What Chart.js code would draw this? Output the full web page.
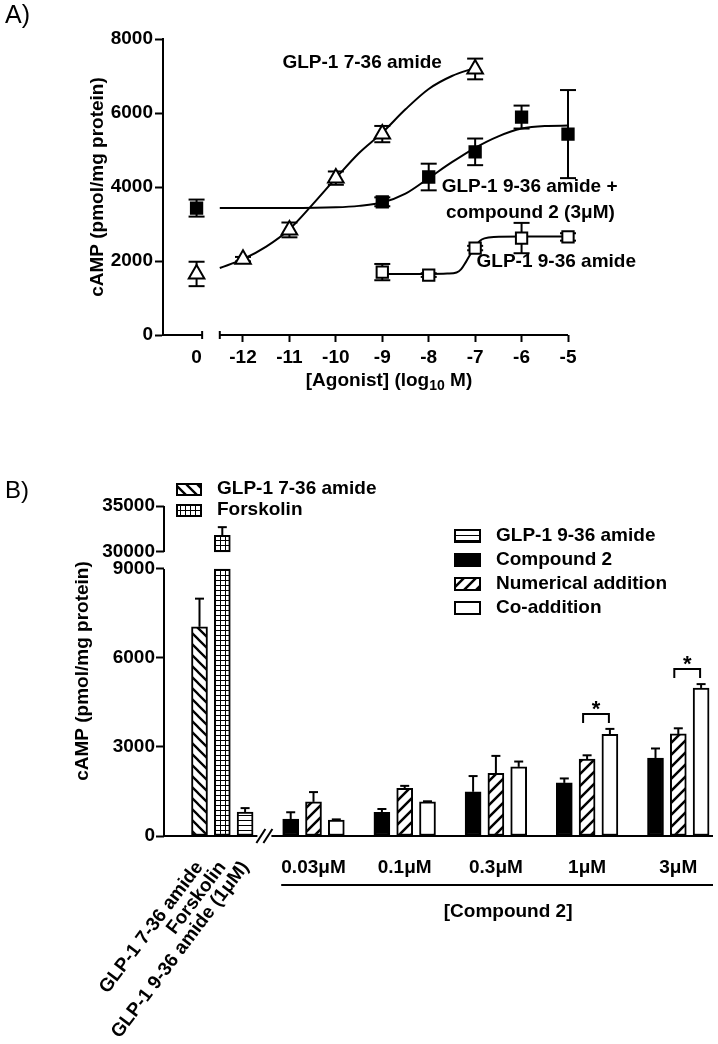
<!DOCTYPE html>
<html>
<head>
<meta charset="utf-8">
<script src="https://cdn.jsdelivr.net/npm/chart.js@4/dist/chart.umd.min.js"></script>
<style>
html,body{margin:0;padding:0;background:#fff;}
#wrap{position:relative;width:718px;height:1044px;overflow:hidden;}
#ca{position:absolute;left:0;top:0;}
#cb{position:absolute;left:0;top:430px;}
</style>
</head>
<body>
<div id="wrap">
<canvas id="ca" width="718" height="430"></canvas>
<canvas id="cb" width="718" height="614"></canvas>
</div>
<script>
// ================= DATA =================
// ---- Panel A : concentration-response (log10 M; 0 = no agonist) ----
const doseTicks = [0, -12, -11, -10, -9, -8, -7, -6, -5];
const cAmpTicksA = [0, 2000, 4000, 6000, 8000];

const glp736Dose = [0, -12, -11, -10, -9, -7];
const glp736Mean = [1650, 2050, 2840, 4240, 5430, 7190];
const glp736Sem  = [330, 60, 200, 180, 220, 280];
const glp736FitX = [-12.5, -12, -11.5, -11, -10.5, -10, -9.5, -9, -8.5, -8, -7.5, -7];
const glp736FitY = [1810, 2050, 2390, 2860, 3530, 4240, 4920, 5470, 6100, 6650, 7000, 7220];

const comboDose = [0, -9, -8, -7, -6, -5];
const comboMean = [3430, 3600, 4270, 4950, 5890, 5430];
const comboSem  = [230, 120, 360, 360, 310, 1190];
const comboFitX = [-12.5, -11, -10, -9.5, -9, -8.5, -8, -7.5, -7, -6.5, -6, -5.5, -5];
const comboFitY = [3430, 3430, 3450, 3490, 3580, 3820, 4240, 4670, 5060, 5370, 5580, 5650, 5660];

const glp936Dose = [-9, -8, -7, -6, -5];
const glp936Mean = [1700, 1620, 2350, 2620, 2650];
const glp936Sem  = [220, 50, 60, 410, 100];
const glp936FitX = [-9, -8, -7.6, -7.4, -7.3, -7.2, -7.1, -7.0, -6.9, -6.8, -6.6, -6, -5];
const glp936FitY = [1650, 1650, 1660, 1690, 1780, 1970, 2190, 2380, 2540, 2610, 2650, 2660, 2660];

// ---- Panel B : bar chart ----
const leftCats = ['GLP-1 7-36 amide', 'Forskolin', 'GLP-1 9-36 amide (1\u03bcM)'];
const leftMean = [7050, 31800, 810];
const leftSem  = [950, 900, 130];

const groupLabels = ['0.03\u03bcM', '0.1\u03bcM', '0.3\u03bcM', '1\u03bcM', '3\u03bcM'];
const cpd2Mean   = [570, 800, 1490, 1790, 2630];
const cpd2Sem    = [230, 110, 530, 150, 320];
const numAddMean = [1150, 1610, 2110, 2590, 3440];
const numAddSem  = [330, 80, 590, 130, 190];
const coAddMean  = [540, 1150, 2330, 3430, 4990];
const coAddSem   = [20, 20, 180, 180, 130];
const sigGroups  = [3, 4];   // * Numerical addition vs Co-addition

const legendLeft  = ['GLP-1 7-36 amide', 'Forskolin'];
const legendRight = ['GLP-1 9-36 amide', 'Compound 2', 'Numerical addition', 'Co-addition'];
const cAmpTicksB = [0, 3000, 6000, 9000, 30000, 35000];

// ================= SETUP =================
const FAM = '"Liberation Sans", Arial, Helvetica, sans-serif';
const FS = 19;
Chart.defaults.font.family = FAM;
Chart.defaults.color = '#000';
const BOLD = s => ({ family: FAM, size: s, weight: 'bold' });
const BF = 'bold ' + FS + 'px ' + FAM;

function line(ctx, x1, y1, x2, y2) { ctx.beginPath(); ctx.moveTo(x1, y1); ctx.lineTo(x2, y2); ctx.stroke(); }

// ---------- Panel A ----------
const CTRL = -13;                         // axis position used for the "0" (no agonist) point
const AX_GAP = [-12.88, -12.5];           // break in the x axis
const toAxis = d => d === 0 ? CTRL : d;
const pts = (xs, ys) => xs.map((x, i) => ({ x: toAxis(x), y: ys[i] }));
const fit = (xs, ys) => xs.map((x, i) => ({ x: x, y: ys[i] }));

// left edge (axis units) and vertical centre (cAMP units) of curve labels
const annotationsA = [
  { text: 'GLP-1 7-36 amide', x: -11.15, y: 7350 },
  { text: 'GLP-1 9-36 amide +', x: -7.72, y: 4000 },
  { text: 'compound 2 (3\u03bcM)', x: -7.63, y: 3300 },
  { text: 'GLP-1 9-36 amide', x: -6.97, y: 1970 }
];

const panelAPlugin = {
  id: 'panelA',
  beforeDatasetsDraw(chart) {
    const { ctx, scales: { x, y } } = chart;
    ctx.save();
    ctx.strokeStyle = '#000'; ctx.lineWidth = 2;
    chart.data.datasets.forEach(ds => {
      if (!ds.errorBars) return;
      ds.data.forEach((p, i) => {
        const e = ds.errorBars[i];
        const px = x.getPixelForValue(p.x);
        const yt = y.getPixelForValue(p.y + e), yb = y.getPixelForValue(p.y - e);
        line(ctx, px, yt, px, yb);
        line(ctx, px - 8, yt, px + 8, yt);
        line(ctx, px - 8, yb, px + 8, yb);
      });
    });
    ctx.restore();
  },
  afterDraw(chart) {
    const { ctx, chartArea: ca, scales: { x, y } } = chart;
    ctx.save();
    ctx.strokeStyle = '#000'; ctx.fillStyle = '#000'; ctx.lineWidth = 2;
    const ay = ca.bottom;
    const g1 = x.getPixelForValue(AX_GAP[0]), g2 = x.getPixelForValue(AX_GAP[1]);
    line(ctx, ca.left - 1, ay, g1, ay);
    line(ctx, g2, ay, ca.right, ay);
    line(ctx, g1, ay - 4, g1, ay + 4);
    line(ctx, g2, ay - 4, g2, ay + 4);
    // x title with subscript
    const f2 = 'bold 14px ' + FAM;
    const parts = [['[Agonist] (log', BF, 0], ['10', f2, 5], [' M)', BF, 0]];
    let w = 0;
    parts.forEach(p => { ctx.font = p[1]; w += ctx.measureText(p[0]).width; });
    let tx = 389 - w / 2;
    ctx.textBaseline = 'middle'; ctx.textAlign = 'left';
    parts.forEach(p => { ctx.font = p[1]; ctx.fillText(p[0], tx, 381 + p[2]); tx += ctx.measureText(p[0]).width; });
    // curve annotations
    ctx.font = BF; ctx.textAlign = 'left';
    annotationsA.forEach(a => ctx.fillText(a.text, x.getPixelForValue(a.x), y.getPixelForValue(a.y)));
    // panel letter
    ctx.font = '25px ' + FAM;
    ctx.fillText('A)', 5, 16);
    ctx.restore();
  }
};

const markerBase = { showLine: false, clip: false, pointBorderColor: '#000', pointBorderWidth: 2 };
const curveBase = { showLine: true, borderColor: '#000', borderWidth: 2, pointRadius: 0, cubicInterpolationMode: 'monotone', clip: false };

new Chart(document.getElementById('ca'), {
  type: 'scatter',
  data: {
    datasets: [
      Object.assign({ data: pts(glp736Dose, glp736Mean), errorBars: glp736Sem, pointStyle: 'triangle', pointRadius: 9, pointBackgroundColor: '#fff' }, markerBase),
      Object.assign({ data: pts(comboDose, comboMean), errorBars: comboSem, pointStyle: 'rect', pointRadius: 8, pointBackgroundColor: '#000' }, markerBase),
      Object.assign({ data: pts(glp936Dose, glp936Mean), errorBars: glp936Sem, pointStyle: 'rect', pointRadius: 8, pointBackgroundColor: '#fff' }, markerBase),
      Object.assign({ data: fit(glp736FitX, glp736FitY) }, curveBase),
      Object.assign({ data: fit(comboFitX, comboFitY) }, curveBase),
      Object.assign({ data: fit(glp936FitX, glp936FitY) }, curveBase)
    ]
  },
  options: {
    responsive: false, animation: false, devicePixelRatio: 1,
    layout: { padding: { left: 0, top: 39, right: 150, bottom: 0 } },
    plugins: { legend: { display: false }, tooltip: { enabled: false } },
    scales: {
      x: {
        type: 'linear', min: -13.723, max: -5, bounds: 'data',
        afterFit: s => { s.height = 95; },
        afterBuildTicks: s => { s.ticks = doseTicks.map(d => ({ value: toAxis(d) })); },
        border: { display: false },
        grid: { drawOnChartArea: false, drawTicks: true, tickLength: 7, tickWidth: 2,
                tickColor: c => (c.tick && c.tick.value === CTRL) ? 'rgba(0,0,0,0)' : '#000' },
        ticks: { autoSkip: false, maxRotation: 0, padding: 4, font: BOLD(FS), color: '#000',
                 callback: v => v === CTRL ? '0' : String(v) }
      },
      y: {
        type: 'linear', min: 0, max: 8000, bounds: 'data',
        afterFit: s => { s.width = 163; },
        afterBuildTicks: s => { s.ticks = cAmpTicksA.map(v => ({ value: v })); },
        border: { display: true, color: '#000', width: 2 },
        grid: { drawOnChartArea: false, tickLength: 8, tickWidth: 2, tickColor: '#000' },
        ticks: { autoSkip: false, padding: 2, font: BOLD(FS), color: '#000', callback: v => String(v) },
        title: { display: true, text: 'cAMP (pmol/mg protein)', font: BOLD(FS), color: '#000', padding: { top: 86, bottom: 0 } }
      }
    }
  },
  plugins: [panelAPlugin]
});

// ---------- Panel B ----------
const LinearScale = Chart.LinearScale || Chart.registry.getScale('linear');
class BrokenScale extends LinearScale {
  toVirtual(v) {
    const b = this.options.brk;
    if (v <= b.low) return v;
    if (v >= b.high) return b.low + b.gap + (v - b.high) * b.upperScale;
    return b.low + (v - b.low) / (b.high - b.low) * b.gap;
  }
  getPixelForValue(v) {
    if (v === null || v === undefined || isNaN(v)) return NaN;
    return super.getPixelForValue(this.toVirtual(v));
  }
}
BrokenScale.id = 'brokenLinear';
BrokenScale.defaults = LinearScale.defaults;
Chart.register(BrokenScale);

const BRK = { low: 9000, high: 30000, gap: 573, upperScale: 0.31 };
const yTopB = cAmpTicksB[cAmpTicksB.length - 1];
const virtualMax = BRK.low + BRK.gap + (yTopB - BRK.high) * BRK.upperScale;

const ctxB = document.getElementById('cb').getContext('2d');
function hatch(kind) {
  const c = document.createElement('canvas');
  const g = c.getContext('2d');
  if (kind === 'back' || kind === 'fwd') {
    const s = kind === 'back' ? 11 : 12;
    c.width = c.height = s;
    g.fillStyle = '#fff'; g.fillRect(0, 0, s, s);
    g.strokeStyle = '#000'; g.lineWidth = kind === 'back' ? 2.3 : 2.5;
    g.beginPath();
    for (let k = -1; k <= 1; k++) {
      if (kind === 'back') { g.moveTo(-1, k * s - 1); g.lineTo(s + 1, k * s + s + 1); }
      else { g.moveTo(-1, k * s + s + 1); g.lineTo(s + 1, k * s - 1); }
    }
    g.stroke();
  } else if (kind === 'grid') {
    c.width = 5; c.height = 5;
    g.fillStyle = '#fff'; g.fillRect(0, 0, 5, 5);
    g.fillStyle = '#000'; g.fillRect(0, 0, 5, 1); g.fillRect(0, 0, 1, 5);
  } else {
    c.width = 4; c.height = 5;
    g.fillStyle = '#fff'; g.fillRect(0, 0, 4, 5);
    g.fillStyle = '#000'; g.fillRect(0, 0, 4, 1);
  }
  return ctxB.createPattern(c, 'repeat');
}
const patBack = hatch('back'), patGrid = hatch('grid'), patHoriz = hatch('horiz'), patFwd = hatch('fwd');

const leftSlots = [0, 1, 2];
const groupSlot = (g, k) => 4 + 4 * g + k;

const barBase = { grouped: false, barThickness: 16, borderColor: '#000', borderWidth: 2, borderSkipped: false };
const groupData = (arr, k) => arr.map((v, g) => ({ x: groupSlot(g, k), y: v }));

const fillsLeft = [patBack, patGrid];
const fillsRight = [patHoriz, '#000', patFwd, '#fff'];

const panelBPlugin = {
  id: 'panelB',
  afterDatasetsDraw(chart) {
    const { ctx, scales: { y } } = chart;
    ctx.save();
    ctx.strokeStyle = '#000'; ctx.lineWidth = 2;
    chart.data.datasets.forEach((ds, di) => {
      if (!ds.errorBars) return;
      const meta = chart.getDatasetMeta(di);
      ds.data.forEach((p, i) => {
        const e = ds.errorBars[i];
        if (!e) return;
        const top = Array.isArray(p.y) ? p.y[1] : p.y;
        const bx = meta.data[i].x;
        const y0 = y.getPixelForValue(top), y1 = y.getPixelForValue(top + e);
        line(ctx, bx, y0, bx, y1);
        line(ctx, bx - 4.5, y1, bx + 4.5, y1);
      });
    });
    ctx.restore();
  },
  afterDraw(chart) {
    const { ctx, chartArea: ca, scales: { x, y } } = chart;
    ctx.save();
    ctx.strokeStyle = '#000'; ctx.fillStyle = '#000'; ctx.lineWidth = 2;
    // broken y axis
    const yx = ca.left;
    line(ctx, yx, y.getPixelForValue(0) + 1, yx, y.getPixelForValue(BRK.low));
    line(ctx, yx, y.getPixelForValue(BRK.high), yx, y.getPixelForValue(yTopB));
    // broken x axis
    const by = y.getPixelForValue(0);
    const brX = (x.getPixelForValue(leftSlots[2]) + x.getPixelForValue(groupSlot(0, 0))) / 2 - 3;
    line(ctx, yx, by, brX - 7.5, by);
    line(ctx, brX + 6.5, by, ca.right, by);
    line(ctx, brX - 8.5, by + 7, brX + 0.5, by - 7);
    line(ctx, brX - 1.5, by + 7, brX + 7.5, by - 7);
    // group labels
    ctx.font = BF; ctx.textAlign = 'center'; ctx.textBaseline = 'middle';
    groupLabels.forEach((lab, g) => ctx.fillText(lab, x.getPixelForValue(groupSlot(g, 1)), by + 32));
    const ul1 = x.getPixelForValue(groupSlot(0, 0)) - 9.5, ul2 = ca.right;
    line(ctx, ul1, by + 49, ul2, by + 49);
    ctx.fillText('[Compound 2]', (ul1 + ul2) / 2 + 11, by + 76);
    // significance brackets
    sigGroups.forEach(g => {
      const x1 = x.getPixelForValue(groupSlot(g, 1)) - 4;
      const x2 = x.getPixelForValue(groupSlot(g, 2)) - 1;
      const topVal = Math.max(numAddMean[g] + numAddSem[g], coAddMean[g] + coAddSem[g]);
      const yb = y.getPixelForValue(topVal) - 15;
      ctx.beginPath(); ctx.moveTo(x1, yb + 9); ctx.lineTo(x1, yb); ctx.lineTo(x2, yb); ctx.lineTo(x2, yb + 9); ctx.stroke();
      ctx.font = 'bold 22px ' + FAM; ctx.textBaseline = 'alphabetic';
      ctx.fillText('*', (x1 + x2) / 2, yb + 2);
    });
    // legends
    const swatch = (sx, sy, w, h, fill) => {
      ctx.fillStyle = fill; ctx.fillRect(sx, sy, w, h);
      ctx.strokeStyle = '#000'; ctx.lineWidth = 2; ctx.strokeRect(sx + 1, sy + 1, w - 2, h - 2);
    };
    ctx.font = BF; ctx.textAlign = 'left'; ctx.textBaseline = 'middle';
    legendLeft.forEach((lab, i) => {
      const cy = 59 + 21 * i;
      swatch(176, cy - 6, 26, 13, fillsLeft[i]);
      ctx.fillStyle = '#000'; ctx.fillText(lab, 217, cy);
    });
    legendRight.forEach((lab, i) => {
      const cy = 106 + 24 * i;
      swatch(454, cy - 7, 27, 14, fillsRight[i]);
      ctx.fillStyle = '#000'; ctx.fillText(lab, 496, cy);
    });
    ctx.font = '24px ' + FAM;
    ctx.fillText('B)', 5, 61);
    ctx.restore();
  }
};

new Chart(ctxB, {
  type: 'bar',
  data: {
    datasets: [
      Object.assign({ label: leftCats[0], data: [{ x: leftSlots[0], y: leftMean[0] }], errorBars: [leftSem[0]], backgroundColor: patBack }, barBase),
      Object.assign({ label: leftCats[1], data: [{ x: leftSlots[1], y: [0, Math.min(leftMean[1], BRK.low)] }, { x: leftSlots[1], y: [BRK.high, leftMean[1]] }], errorBars: [0, leftSem[1]], backgroundColor: patGrid }, barBase),
      Object.assign({ label: leftCats[2], data: [{ x: leftSlots[2], y: leftMean[2] }], errorBars: [leftSem[2]], backgroundColor: patHoriz }, barBase),
      Object.assign({ label: legendRight[1], data: groupData(cpd2Mean, 0), errorBars: cpd2Sem, backgroundColor: '#000' }, barBase),
      Object.assign({ label: legendRight[2], data: groupData(numAddMean, 1), errorBars: numAddSem, backgroundColor: patFwd }, barBase),
      Object.assign({ label: legendRight[3], data: groupData(coAddMean, 2), errorBars: coAddSem, backgroundColor: '#fff' }, barBase)
    ]
  },
  options: {
    responsive: false, animation: false, devicePixelRatio: 1,
    layout: { padding: { left: 0, top: 76, right: 5, bottom: 0 } },
    plugins: { legend: { display: false }, tooltip: { enabled: false } },
    scales: {
      x: {
        type: 'linear', min: -1.557, max: 22.522, bounds: 'data', offset: false,
        afterFit: s => { s.height = 208; },
        afterBuildTicks: s => { s.ticks = leftSlots.map(v => ({ value: v })); },
        border: { display: false },
        grid: { display: false },
        ticks: { autoSkip: false, minRotation: 53, maxRotation: 53, padding: 13, font: BOLD(FS), color: '#000',
                 callback: (v, i) => leftCats[i] }
      },
      y: {
        type: 'brokenLinear', brk: BRK, min: 0, max: virtualMax, bounds: 'data',
        afterFit: s => { s.width = 164; },
        afterBuildTicks: s => { s.ticks = cAmpTicksB.map(v => ({ value: v })); },
        border: { display: false },
        grid: { drawOnChartArea: false, tickLength: 8, tickWidth: 2, tickColor: '#000' },
        ticks: { autoSkip: false, padding: 1, font: BOLD(FS), color: '#000', callback: v => String(v) },
        title: { display: true, text: 'cAMP (pmol/mg protein)', font: BOLD(FS), color: '#000', padding: { top: 71, bottom: 0 } }
      }
    }
  },
  plugins: [panelBPlugin]
});
</script>
</body>
</html>
